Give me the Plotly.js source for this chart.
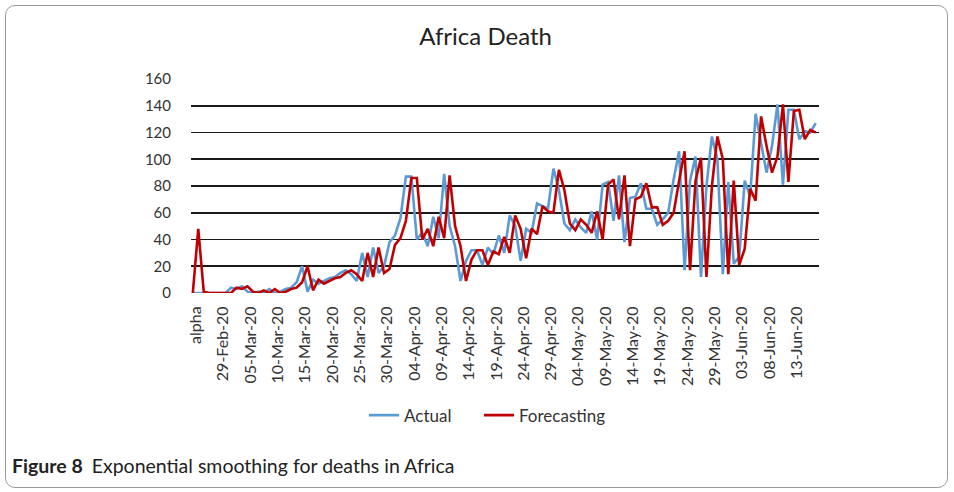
<!DOCTYPE html>
<html><head><meta charset="utf-8">
<script src="https://cdn.plot.ly/plotly-3.0.1.min.js"></script>
<style>
html,body{margin:0;padding:0;background:#fff;}
#wrap{position:relative;width:954px;height:492px;overflow:hidden;background:#fff;}
#frame{position:absolute;left:5px;top:5px;width:943px;height:483px;border:1px solid #9a9a9a;border-radius:10px;box-sizing:border-box;}
#chart{position:absolute;left:0;top:0;width:954px;height:492px;}
#caption{position:absolute;left:12px;top:454px;font-family:Lato,"Noto Sans",sans-serif;font-size:19.5px;color:#222;white-space:nowrap;}
#caption b{font-weight:700;margin-right:9px;}
</style>
</head><body>
<div id="wrap">
<div id="frame"></div>
<div id="chart"></div>
<div id="caption"><b>Figure 8</b>Exponential smoothing for deaths in Africa</div>
</div>
<script>
const categories = ["alpha",
"25-Feb-20","26-Feb-20","27-Feb-20","28-Feb-20","29-Feb-20",
"01-Mar-20","02-Mar-20","03-Mar-20","04-Mar-20","05-Mar-20","06-Mar-20","07-Mar-20","08-Mar-20","09-Mar-20","10-Mar-20",
"11-Mar-20","12-Mar-20","13-Mar-20","14-Mar-20","15-Mar-20","16-Mar-20","17-Mar-20","18-Mar-20","19-Mar-20","20-Mar-20",
"21-Mar-20","22-Mar-20","23-Mar-20","24-Mar-20","25-Mar-20","26-Mar-20","27-Mar-20","28-Mar-20","29-Mar-20","30-Mar-20","31-Mar-20",
"01-Apr-20","02-Apr-20","03-Apr-20","04-Apr-20","05-Apr-20","06-Apr-20","07-Apr-20","08-Apr-20","09-Apr-20","10-Apr-20",
"11-Apr-20","12-Apr-20","13-Apr-20","14-Apr-20","15-Apr-20","16-Apr-20","17-Apr-20","18-Apr-20","19-Apr-20","20-Apr-20",
"21-Apr-20","22-Apr-20","23-Apr-20","24-Apr-20","25-Apr-20","26-Apr-20","27-Apr-20","28-Apr-20","29-Apr-20","30-Apr-20",
"01-May-20","02-May-20","03-May-20","04-May-20","05-May-20","06-May-20","07-May-20","08-May-20","09-May-20","10-May-20",
"11-May-20","12-May-20","13-May-20","14-May-20","15-May-20","16-May-20","17-May-20","18-May-20","19-May-20","20-May-20",
"21-May-20","22-May-20","23-May-20","24-May-20","25-May-20","26-May-20","27-May-20","28-May-20","29-May-20","30-May-20","31-May-20",
"01-Jun-20","02-Jun-20","03-Jun-20","04-Jun-20","05-Jun-20","06-Jun-20","07-Jun-20","08-Jun-20","09-Jun-20","10-Jun-20",
"11-Jun-20","12-Jun-20","13-Jun-20","14-Jun-20","15-Jun-20","16-Jun-20","17-Jun-20"];

const actual = [0,0,0,0,0,0,0,4,3,5,
1,0,1,0,3,0,1,3,4,8,
20,1,10,7,9,11,12,15,17,14,
9,30,12,34,15,20,38,43,56,87,
87,40,45,35,57,41,89,50,35,9,
24,32,32,21,34,29,43,30,58,50,
24,48,45,67,65,63,93,77,52,47,
55,49,45,61,40,81,83,54,88,38,
71,72,82,63,63,51,55,60,85,106,
17,84,102,12,80,117,100,14,83,22,
27,84,72,134,112,90,110,141,81,137,
137,115,121,120,127];

const forecasting = [0,48,1,0,0,0,0,0,4,3,
5,1,0,2,0,3,0,1,3,4,
8,20,2,10,7,9,11,12,15,17,
14,9,30,12,34,15,18,36,41,54,
86,86,40,48,35,57,41,88,50,35,
9,25,32,32,21,31,29,42,30,58,
48,26,48,44,65,61,60,92,77,52,
47,55,51,45,61,40,81,85,55,88,
35,70,72,82,64,64,51,54,60,84,
106,17,84,101,12,80,117,100,14,84,
21,33,78,69,132,110,90,102,141,83,
136,137,115,122,120];

const tickLabels = ["alpha","29-Feb-20","05-Mar-20","10-Mar-20","15-Mar-20","20-Mar-20","25-Mar-20","30-Mar-20",
"04-Apr-20","09-Apr-20","14-Apr-20","19-Apr-20","24-Apr-20","29-Apr-20","04-May-20","09-May-20","14-May-20",
"19-May-20","24-May-20","29-May-20","03-Jun-20","08-Jun-20","13-Jun-20"];

const yTicks = [0,20,40,60,80,100,120,140,160];

const FONT = 'Lato, "Noto Sans", sans-serif';

const traces = [
  {x: categories, y: actual, type: 'scatter', mode: 'lines', name: 'Actual', legend: 'legend',
   line: {color: '#5b9bd5', width: 2.6}},
  {x: categories, y: forecasting, type: 'scatter', mode: 'lines', name: 'Forecasting', legend: 'legend2',
   line: {color: '#c00000', width: 2.6}}
];

const legendBase = {orientation: 'h', xanchor: 'left', y: -0.573, yanchor: 'middle',
  font: {family: FONT, size: 17, color: '#333'}, itemwidth: 30, bgcolor: 'rgba(0,0,0,0)'};

const layout = {
  width: 954, height: 492,
  paper_bgcolor: 'rgba(0,0,0,0)', plot_bgcolor: 'rgba(0,0,0,0)',
  margin: {l: 191, r: 135, t: 79, b: 199, pad: 0},
  font: {family: FONT, color: '#333'},
  title: {text: 'Africa Death', font: {family: FONT, size: 24, color: '#222'},
          xref: 'container', yref: 'container', x: 0.509, xanchor: 'center', y: 1 - 37/492, yanchor: 'middle'},
  showlegend: true,
  legend: Object.assign({}, legendBase, {x: (364 - 191) / 628}),
  legend2: Object.assign({}, legendBase, {x: (479 - 191) / 628}),
  xaxis: {type: 'category', categoryorder: 'array', categoryarray: categories,
          range: [-0.33, 114.6], tickmode: 'array', tickvals: tickLabels, ticktext: tickLabels,
          tickangle: -90, tickfont: {family: FONT, size: 16, color: '#333'}, ticklabelshift: 3,
          showgrid: false, zeroline: false, showline: false, automargin: false,
          ticks: 'outside', ticklen: 6, tickcolor: 'rgba(0,0,0,0)'},
  yaxis: {range: [0, 160], tickmode: 'array', tickvals: yTicks, ticktext: yTicks.map(String),
          showgrid: true, gridcolor: '#1a1a1a', gridwidth: 1.6, zeroline: false, showline: false,
          tickfont: {family: FONT, size: 15, color: '#333'}, automargin: false,
          ticks: 'outside', ticklen: 16, tickcolor: 'rgba(0,0,0,0)'}
};

Plotly.newPlot('chart', traces, layout, {displayModeBar: false, staticPlot: true});
</script>
</body></html>
